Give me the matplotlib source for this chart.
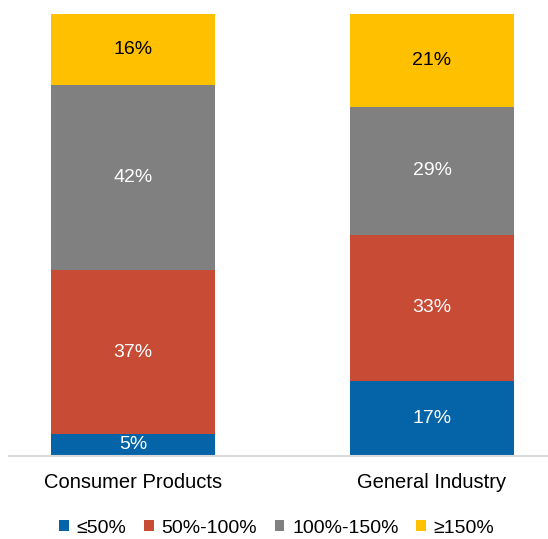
import matplotlib.pyplot as plt
import numpy as np

categories = ['Consumer Products', 'General Industry']
series_names = ['\u226450%', '50%-100%', '100%-150%', '\u2265150%']
le50 = [5, 17]
p50_100 = [37, 33]
p100_150 = [42, 29]
ge150 = [16, 21]

colors = ['#0563A7', '#C84B35', '#808080', '#FFC000']
text_colors = ['white', 'white', 'white', 'black']

plt.rcParams['font.family'] = ['Liberation Sans', 'DejaVu Sans']

fig = plt.figure(figsize=(5.48, 5.39), dpi=100)
ax = fig.add_axes([9 / 548, 83 / 539, 1 - 9 / 548, 442 / 539])

x = np.arange(len(categories))
bottom = np.zeros(len(categories))
for name, vals, c, tc in zip(series_names, [le50, p50_100, p100_150, ge150], colors, text_colors):
    vals = np.array(vals, dtype=float)
    ax.bar(x, vals, width=0.55, bottom=bottom, color=c, label=name)
    for xi, b, v in zip(x, bottom, vals):
        ax.text(xi, b + v / 2, '{0}%'.format(int(v)), ha='center', va='center',
                color=tc, fontsize=14)
    bottom += vals

ax.set_xlim(-0.415, 1.388)
ax.set_ylim(0, 100)
ax.set_yticks([])
ax.set_xticks(x)
ax.set_xticklabels(categories, fontsize=14.5)
ax.tick_params(axis='x', length=0, pad=12)
for s in ['top', 'right', 'left']:
    ax.spines[s].set_visible(False)
ax.spines['bottom'].set_color('#D9D9D9')
ax.spines['bottom'].set_linewidth(1.5)

fig.legend(loc='lower center', ncol=4, frameon=False, fontsize=14,
           bbox_to_anchor=(0.505, -0.028), handlelength=0.5, handleheight=0.5,
           handletextpad=0.4, columnspacing=0.9)

plt.savefig('out.png', dpi=100)
